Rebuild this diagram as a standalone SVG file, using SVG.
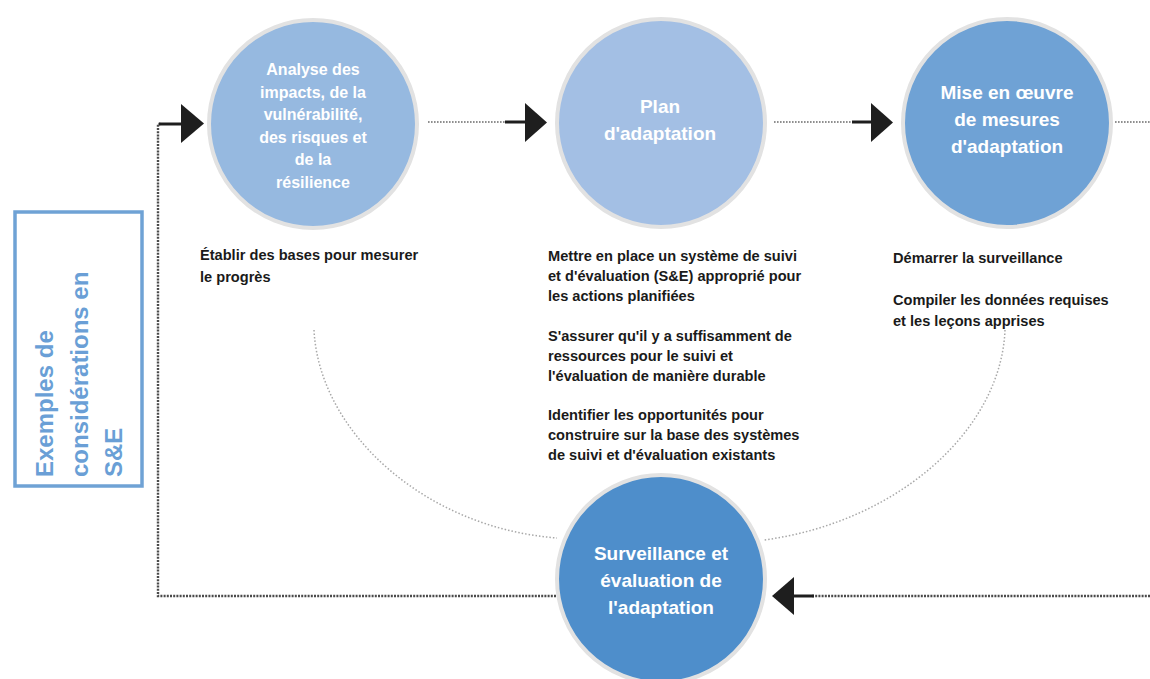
<svg xmlns="http://www.w3.org/2000/svg" width="1150" height="679" viewBox="0 0 1150 679">
<style>
.ring{stroke:#e2e2e2;stroke-width:4}
.ct{font-family:"Liberation Sans",Arial,sans-serif;font-weight:bold;fill:#ffffff;text-anchor:middle}
.body{font-family:"Liberation Sans",Arial,sans-serif;font-weight:bold;font-size:14.6px;fill:#1a1a1a}
.side{font-family:"Liberation Sans",Arial,sans-serif;font-weight:bold;font-size:24px;fill:#6a9fd6}
.dotH{fill:none;stroke:#6b6b6b;stroke-width:1.6;stroke-dasharray:1.6 1.4}
.frame{fill:none;stroke:#4a4a4a;stroke-width:2.4;stroke-dasharray:2 1.2}
.arc{fill:none;stroke:#a8a8a8;stroke-width:1.5;stroke-dasharray:1.5 2}
.solid{stroke:#1e1e1e;stroke-width:3}
.head{fill:#1e1e1e}
</style>
<rect width="1150" height="679" fill="#ffffff"/>

<g id="connectors">
  <!-- frame loop -->
  <path class="frame" d="M556,596 L158,596 L158,124 L161,124"/>
  <line class="solid" x1="159" y1="124" x2="182" y2="124"/>
  <polygon class="head" points="181,104 204,123.5 181,143"/>
  <!-- circle1 to circle2 -->
  <line class="dotH" x1="428" y1="122" x2="506" y2="122"/>
  <line class="solid" x1="505" y1="122" x2="527" y2="122"/>
  <polygon class="head" points="525,103 547,122.5 525,142"/>
  <!-- circle2 to circle3 -->
  <line class="dotH" x1="774" y1="122" x2="853" y2="122"/>
  <line class="solid" x1="852" y1="122" x2="873" y2="122"/>
  <polygon class="head" points="871,103 893,122.5 871,142"/>
  <!-- right out -->
  <line class="dotH" x1="1115" y1="122" x2="1150" y2="122"/>
  <!-- back to circle4 -->
  <line class="frame" x1="1150" y1="596" x2="812" y2="596"/>
  <line class="solid" x1="814" y1="596" x2="792" y2="596"/>
  <polygon class="head" points="794,577 772,596 794,615"/>
  <!-- arcs -->
  <path class="arc" d="M314,330 C319,432 425,528 557,538"/>
  <path class="arc" d="M1005,330 C1001,430 898,522 764,540"/>
</g>

<g id="node-analyse">
  <circle class="ring" cx="313" cy="124" r="104" fill="#96b9e0"/>
  <text class="ct" font-size="16" x="313" y="75">Analyse des</text>
  <text class="ct" font-size="16" x="313" y="97.6">impacts, de la</text>
  <text class="ct" font-size="16" x="313" y="120.2">vulnérabilité,</text>
  <text class="ct" font-size="16" x="313" y="142.8">des risques et</text>
  <text class="ct" font-size="16" x="313" y="165.4">de la</text>
  <text class="ct" font-size="16" x="313" y="188">résilience</text>
</g>

<g id="node-plan">
  <circle class="ring" cx="661" cy="123" r="104" fill="#a3bfe4"/>
  <text class="ct" font-size="19" x="660" y="113">Plan</text>
  <text class="ct" font-size="19" x="660" y="140">d'adaptation</text>
</g>

<g id="node-mise">
  <circle class="ring" cx="1007" cy="123" r="104" fill="#6fa2d5"/>
  <text class="ct" font-size="19" x="1007" y="99">Mise en œuvre</text>
  <text class="ct" font-size="19" x="1007" y="126">de mesures</text>
  <text class="ct" font-size="19" x="1007" y="153">d'adaptation</text>
</g>

<g id="node-surveillance">
  <circle class="ring" cx="661" cy="579" r="104" fill="#4e8ecb"/>
  <text class="ct" font-size="19" x="661" y="560">Surveillance et</text>
  <text class="ct" font-size="19" x="661" y="587">évaluation de</text>
  <text class="ct" font-size="19" x="661" y="614">l'adaptation</text>
</g>

<g id="side-label">
  <rect x="15" y="212" width="127" height="274" fill="#ffffff" stroke="#6fa2d5" stroke-width="3.5"/>
  <g transform="translate(0,477) rotate(-90)">
    <text class="side" x="0" y="53">Exemples de</text>
    <text class="side" x="0" y="88">considérations en</text>
    <text class="side" x="0" y="122">S&amp;E</text>
  </g>
</g>

<g id="notes-analyse">
  <text class="body" x="200" y="260">Établir des bases pour mesurer</text>
  <text class="body" x="200" y="282">le progrès</text>
</g>

<g id="notes-plan">
  <text class="body" x="548" y="261">Mettre en place un système de suivi</text>
  <text class="body" x="548" y="281">et d'évaluation (S&amp;E) approprié pour</text>
  <text class="body" x="548" y="301">les actions planifiées</text>
  <text class="body" x="548" y="341">S'assurer qu'il y a suffisamment de</text>
  <text class="body" x="548" y="361">ressources pour le suivi et</text>
  <text class="body" x="548" y="381">l'évaluation de manière durable</text>
  <text class="body" x="548" y="420">Identifier les opportunités pour</text>
  <text class="body" x="548" y="440">construire sur la base des systèmes</text>
  <text class="body" x="548" y="460">de suivi et d'évaluation existants</text>
</g>

<g id="notes-mise">
  <text class="body" x="893" y="263">Démarrer la surveillance</text>
  <text class="body" x="893" y="305">Compiler les données requises</text>
  <text class="body" x="893" y="326">et les leçons apprises</text>
</g>
</svg>
